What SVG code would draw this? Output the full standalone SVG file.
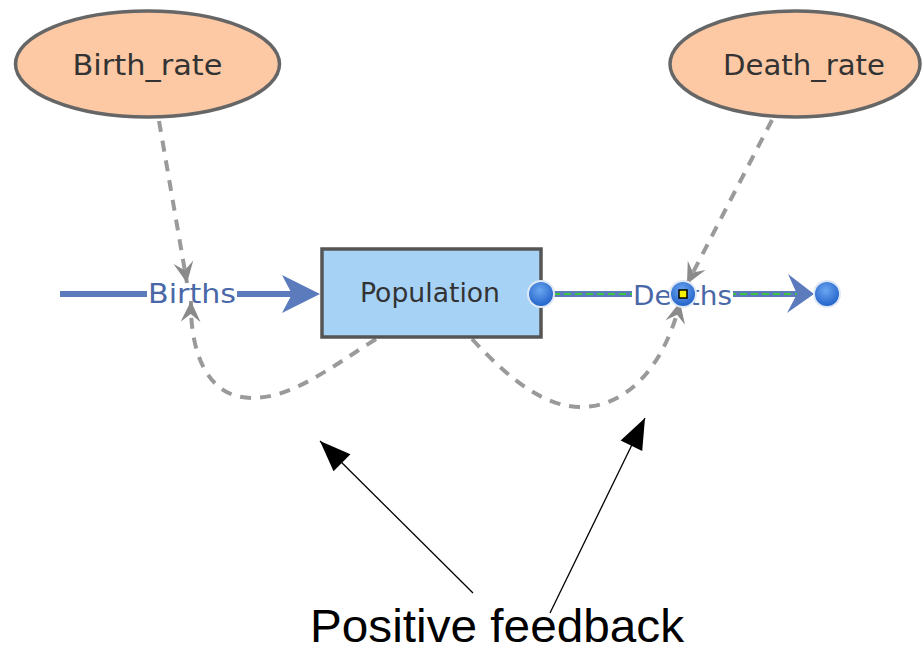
<svg xmlns="http://www.w3.org/2000/svg" width="922" height="653" viewBox="0 0 922 653">
  <defs>
    <style>
      .aux { fill: #fcc9a4; stroke: #666; stroke-width: 3.5; }
      .stock { fill: #a6d2f6; stroke: #555; stroke-width: 3.5; }
      .lbl { font-family: "DejaVu Sans", "Liberation Sans", sans-serif; fill: #333; }
      .flowlbl { font-family: "DejaVu Sans", "Liberation Sans", sans-serif; fill: #4a68a8; }
      .flow { stroke: #5b7bbd; stroke-width: 6; fill: none; }
      .link { stroke: #9a9a9a; stroke-width: 4; stroke-dasharray: 11 9; fill: none; }
      .note { stroke: #000; stroke-width: 1.3; fill: none; }
    </style>
    <marker id="gray" viewBox="-22 -12 24 24" refX="0" refY="0" markerWidth="24" markerHeight="24" markerUnits="userSpaceOnUse" orient="auto">
      <path d="M 0 0 L -21 -10 L -13 0 L -21 10 Z" fill="#8a8a8a"/>
    </marker>
    <marker id="black" viewBox="-32 -13 34 26" refX="0" refY="0" markerWidth="34" markerHeight="26" markerUnits="userSpaceOnUse" orient="auto">
      <path d="M 0 0 L -31 -12 L -31 12 Z" fill="#000"/>
    </marker>
    <radialGradient id="ball" cx="0.45" cy="0.35" r="0.7">
      <stop offset="0" stop-color="#6aa6f0"/>
      <stop offset="1" stop-color="#1f5fc8"/>
    </radialGradient>
  </defs>
  <rect width="922" height="653" fill="#fff"/>

  <!-- flows -->
  <g id="flows">
    <g id="births">
      <line class="flow" x1="60" y1="294" x2="296" y2="294"/>
      <path d="M 320 294 L 282 275 L 292 294 L 282 313 Z" fill="#5b7bbd"/>
      <rect x="147" y="279" width="90" height="28" fill="#fff"/>
      <text class="flowlbl" x="148" y="303" font-size="27" textLength="88" lengthAdjust="spacingAndGlyphs">Births</text>
    </g>
    <g id="deaths">
      <line class="flow" x1="541" y1="294" x2="800" y2="294"/>
      <line x1="553" y1="294" x2="815" y2="294" stroke="#3ec43e" stroke-width="2" stroke-dasharray="7 4"/>
      <path d="M 814 294 L 788 274 L 797 294 L 787 313 Z" fill="#5b7bbd"/>
      <rect x="632" y="280" width="101" height="28" fill="#fff"/>
      <text class="flowlbl" x="633" y="305" font-size="27" textLength="99" lengthAdjust="spacingAndGlyphs">Deaths</text>
    </g>
  </g>

  <!-- connectors -->
  <g id="connectors">
    <path class="link" d="M 159 121 L 187 283" marker-end="url(#gray)"/>
    <path class="link" d="M 376 339 C 330 368 292 398 252 398 C 207 398 190 352 191 301" marker-end="url(#gray)"/>
    <path class="link" d="M 772 120 L 687 284" marker-end="url(#gray)"/>
    <path class="link" d="M 472 339 C 510 380 545 408 584 407 C 630 405 666 362 680 302" marker-end="url(#gray)"/>
    <line class="note" x1="473" y1="593" x2="320" y2="441" marker-end="url(#black)"/>
    <line class="note" x1="550" y1="613" x2="645" y2="418" marker-end="url(#black)"/>
  </g>

  <g id="Birth_rate">
    <ellipse class="aux" cx="147.5" cy="64" rx="132" ry="53"/>
    <text class="lbl" x="147.5" y="75" font-size="29" text-anchor="middle" textLength="150" lengthAdjust="spacingAndGlyphs">Birth_rate</text>
  </g>

  <g id="Death_rate">
    <ellipse class="aux" cx="795" cy="64" rx="125" ry="53"/>
    <text class="lbl" x="804" y="75" font-size="29" text-anchor="middle" textLength="162" lengthAdjust="spacingAndGlyphs">Death_rate</text>
  </g>

  <g id="Population">
    <rect class="stock" x="322" y="249" width="219" height="88"/>
    <text class="lbl" x="430" y="302" font-size="27" text-anchor="middle" textLength="140" lengthAdjust="spacingAndGlyphs">Population</text>
  </g>

  <g id="valves">
    <circle cx="541" cy="294" r="14" fill="#dfe8f5"/>
    <circle cx="541" cy="294" r="12" fill="url(#ball)"/>
    <circle cx="683" cy="294" r="14" fill="#dfe8f5"/>
    <circle cx="683" cy="294" r="12" fill="url(#ball)"/>
    <rect x="679" y="290" width="8" height="8" fill="#f4f000" stroke="#000" stroke-width="1.5"/>
    <circle cx="827" cy="294" r="14" fill="#dfe8f5"/>
    <circle cx="827" cy="294" r="12" fill="url(#ball)"/>
  </g>

  <g id="note">
    <text x="310" y="642" font-family="Liberation Sans, Arial, sans-serif" font-size="46" fill="#000" textLength="374" lengthAdjust="spacingAndGlyphs">Positive feedback</text>
  </g>
</svg>
